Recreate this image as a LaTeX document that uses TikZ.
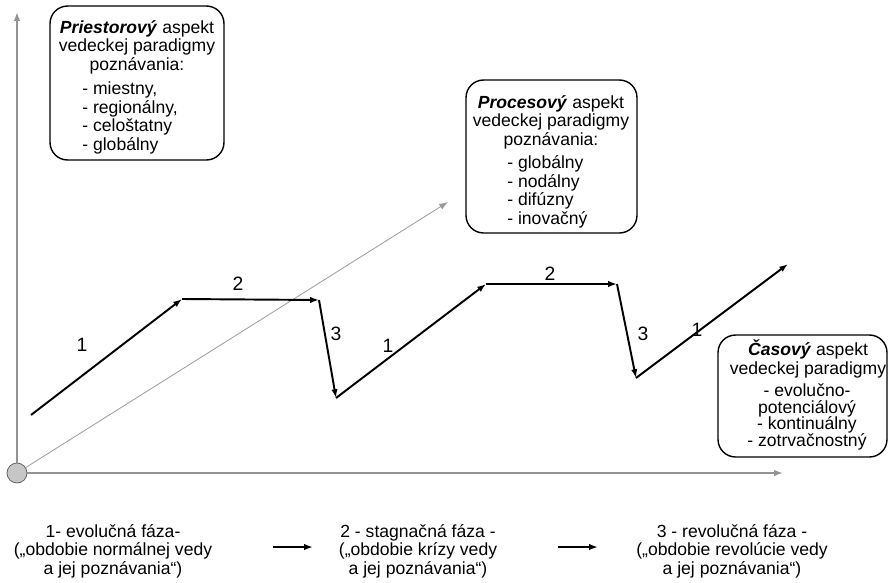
\documentclass[tikz,border=0pt]{standalone}
\usepackage{fontspec}
\setmainfont{Liberation Sans}
\usetikzlibrary{arrows.meta}

\tikzset{
  axisline/.style={draw=gray!85, line width=0.8pt, -{Latex[length=5pt,width=3.6pt]}},
  trendline/.style={draw=gray!80, line width=0.45pt, -{Latex[length=5pt,width=3.6pt]}},
  phaseline/.style={line width=1.1pt, -{Latex[length=5pt,width=3.6pt]}},
  aspectbox/.style={draw, line width=0.8pt, rounded corners=10pt, inner sep=0pt},
  boxtext/.style={font=\fontsize{10}{10.5}\selectfont, inner sep=0pt},
  steplabel/.style={font=\fontsize{11}{13}\selectfont, inner sep=0pt},
}

\begin{document}
\begin{tikzpicture}[x=0.02cm, y=-0.02cm]
    \useasboundingbox (0,0) rectangle (889,582);
    % axes and origin
    \node[circle, draw=gray!70!black, fill=gray!45, minimum size=0.4cm, inner sep=0pt] (o) at (17,473) {};
    \coordinate (ytop) at (17,12);
    \coordinate (xend) at (783,473);
    \coordinate (dend) at (448,202);
    \draw[axisline] (o.north) -- (ytop);
    \draw[axisline] (o.east) -- (xend);
    \draw[trendline] (o) -- (dend);

    % phases
    \coordinate (s0) at (31,415);
    \coordinate (s1) at (182,299);
    \coordinate (s2) at (319,300);
    \coordinate (s3) at (336,398);
    \coordinate (s4) at (486,284);
    \coordinate (s5) at (617,284);
    \coordinate (s6) at (636,378);
    \coordinate (s7) at (788,264);
    \foreach \a/\b in {s0/s1, s1/s2, s2/s3, s3/s4, s4/s5, s5/s6, s6/s7}
        \draw[phaseline] (\a) -- (\b);
    \node[steplabel] (l1) at (82,345) {1};
    \node[steplabel] (l2) at (238,284) {2};
    \node[steplabel] (l3) at (336,334) {3};
    \node[steplabel] (l4) at (388,346) {1};
    \node[steplabel] (l5) at (550,274) {2};
    \node[steplabel] (l6) at (643,334) {3};
    \node[steplabel] (l7) at (697,330) {1};

    % aspect boxes
    \node[aspectbox, minimum width=3.48cm, minimum height=3.08cm] (pbox) at (137,83) {};
    \node[boxtext, align=center] (phead) at (137,47) {\textbf{\textit{Priestorový}} aspekt\\vedeckej paradigmy\\poznávania:};
    \node[boxtext, align=left, anchor=west] (plist) at (82,118) {- miestny,\\- regionálny,\\- celoštatny\\- globálny};

    \node[aspectbox, minimum width=3.42cm, minimum height=3.06cm] (rbox) at (551.5,156.5) {};
    \node[boxtext, align=center] (rhead) at (551,122) {\textbf{\textit{Procesový}} aspekt\\vedeckej paradigmy\\poznávania:};
    \node[boxtext, align=left, anchor=west] (rlist) at (507,192) {- globálny\\- nodálny\\- difúzny\\- inovačný};

    \node[aspectbox, minimum width=3.38cm, minimum height=2.44cm] (cbox) at (802.5,396) {};
    \node[boxtext, align=center] (chead) at (808,359) {\textbf{\textit{Časový}} aspekt\\vedeckej paradigmy};
    \node[boxtext, align=center] (clist) at (807,417) {- evolučno-\\[-1pt]potenciálový\\[-1pt]- kontinuálny\\[-1pt]- zotrvačnostný};

    % phase names
    \node[boxtext, align=center] (f1) at (113,551) {1- evolučná fáza-\\(„obdobie normálnej vedy\\a jej poznávania“)};
    \node[boxtext, align=center] (f2) at (418,551) {2 - stagnačná fáza -\\(„obdobie krízy vedy\\a jej poznávania“)};
    \node[boxtext, align=center] (f3) at (732,551) {3 - revolučná fáza -\\(„obdobie revolúcie vedy\\a jej poznávania“)};
    \coordinate (a1s) at (273,547);
    \coordinate (a1e) at (313,547);
    \coordinate (a2s) at (558,547);
    \coordinate (a2e) at (598,547);
    \draw[phaseline] (a1s) -- (a1e);
    \draw[phaseline] (a2s) -- (a2e);
\end{tikzpicture}
\end{document}
